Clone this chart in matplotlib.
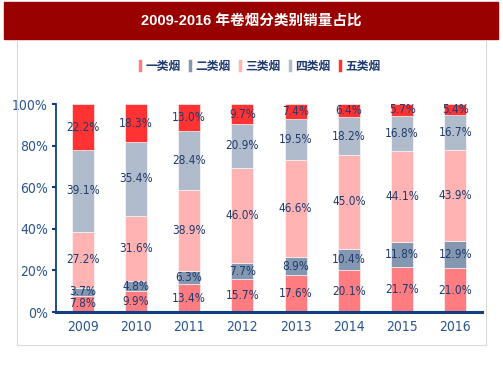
import matplotlib
matplotlib.use("Agg")
import matplotlib.pyplot as plt
import numpy as np
from matplotlib.patches import Rectangle
from matplotlib.lines import Line2D

years = ["2009", "2010", "2011", "2012", "2013", "2014", "2015", "2016"]
cat_names = ["一类烟", "二类烟", "三类烟", "四类烟", "五类烟"]
class1 = [7.8, 9.9, 13.4, 15.7, 17.6, 20.1, 21.7, 21.0]
class2 = [3.7, 4.8, 6.3, 7.7, 8.9, 10.4, 11.8, 12.9]
class3 = [27.2, 31.6, 38.9, 46.0, 46.6, 45.0, 44.1, 43.9]
class4 = [39.1, 35.4, 28.4, 20.9, 19.5, 18.2, 16.8, 16.7]
class5 = [22.2, 18.3, 13.0, 9.7, 7.4, 6.4, 5.7, 5.4]
colors = ["#FF7C80", "#8497B0", "#FFB3B3", "#B0BCCC", "#FF3333"]

num_font = ["Liberation Sans Narrow", "DejaVu Sans"]
cjk_font = ["Noto Sans CJK SC", "DejaVu Sans"]
txt_col = "#1F3A6E"
axis_col = "#0F3F80"
tick_col = "#2A5590"

fig = plt.figure(figsize=(5.03, 3.78), dpi=100)

# title bar and panel frame
fig.patches.append(Rectangle((4 / 503, 1 - 39 / 378), 494 / 503, 37 / 378,
                             transform=fig.transFigure, color="#990000", zorder=0))
fig.text(251 / 503, 1 - 21 / 378, "2009-2016 年卷烟分类别销量占比", color="white",
         fontsize=10.5, fontweight="bold", ha="center", va="center",
         family=["Liberation Sans", "Noto Sans CJK SC"])
for xs, ys in [([17, 17], [40, 345]), ([486, 486], [40, 345]), ([17, 486], [345, 345])]:
    fig.lines.append(Line2D([x / 503 for x in xs], [1 - y / 378 for y in ys],
                            transform=fig.transFigure, color="#DADADA", lw=0.8))

ax = fig.add_axes([56 / 503, 1 - 312 / 378, 426 / 503, 208 / 378])
x = np.arange(len(years))
series = [class1, class2, class3, class4, class5]
bottom = np.zeros(len(years))
handles = []
for vals, c, name in zip(series, colors, cat_names):
    vals = np.array(vals)
    b = ax.bar(x, vals, 0.41, bottom=bottom, color=c, edgecolor="white", lw=0.4, label=name)
    handles.append(b)
    for xi, v, bt in zip(x, vals, bottom):
        ax.text(xi, bt + v / 2, f"{v:.1f}%", ha="center", va="center", fontsize=8.5,
                color=txt_col, family=num_font, fontstretch="condensed")
    bottom += vals

ax.set_xlim(-0.5, 7.5)
ax.set_ylim(0, 100)
ax.set_yticks(np.arange(0, 101, 20))
ax.set_yticklabels([f"{v}%" for v in range(0, 101, 20)], family=num_font, fontsize=10,
                   color=tick_col, fontstretch="condensed")
ax.set_xticks(x)
ax.set_xticklabels(years, family=num_font, fontsize=10, color=tick_col, fontstretch="condensed")
ax.tick_params(axis="x", length=0, pad=6)
ax.tick_params(axis="y", length=3, width=1.5, color=axis_col, pad=3)
for s in ["top", "right"]:
    ax.spines[s].set_visible(False)
ax.spines["left"].set_color(axis_col)
ax.spines["left"].set_linewidth(1.3)
ax.spines["bottom"].set_color(axis_col)
ax.spines["bottom"].set_linewidth(2.2)

leg = fig.legend(handles=handles, loc="center", bbox_to_anchor=(259 / 503, 1 - 66 / 378),
                 ncol=5, frameon=False, prop={"family": cjk_font, "size": 8.5, "weight": "bold"},
                 handlelength=0.35, handleheight=1.3, handletextpad=0.3, columnspacing=0.6)
for t in leg.get_texts():
    t.set_color(txt_col)

fig.savefig("out.png", dpi=100)
